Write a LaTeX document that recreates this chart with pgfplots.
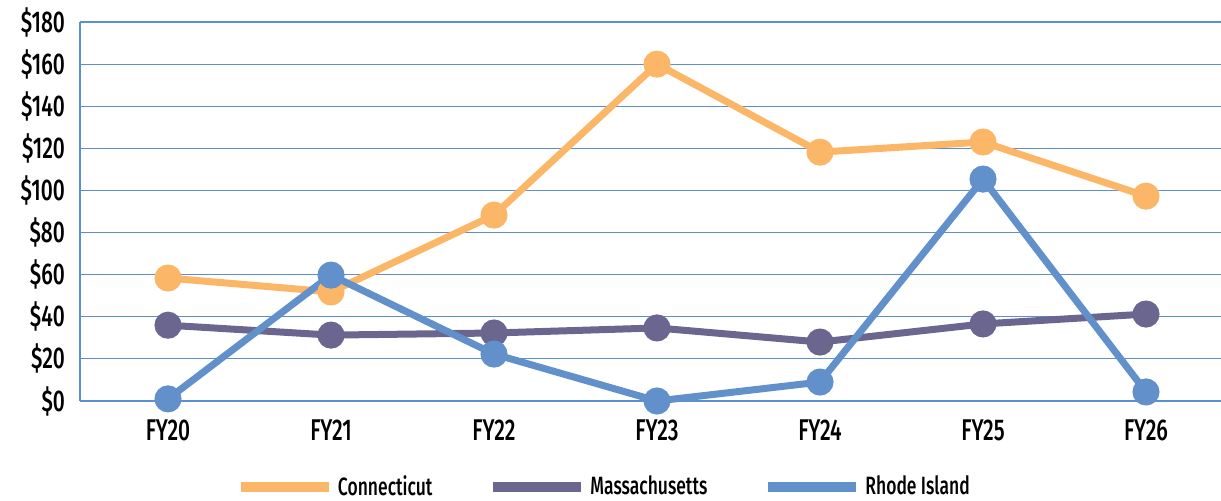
\documentclass[border=0pt]{standalone}
\usepackage{pgfplots}
\pgfplotsset{compat=1.18}
\usepackage{fontspec}
\setmainfont{Fira Sans Medium}[FakeStretch=0.7]
\definecolor{ctc}{HTML}{FBB767}
\definecolor{mac}{HTML}{6A668F}
\definecolor{ric}{HTML}{6190CB}
\definecolor{gridc}{HTML}{5B8FD0}
\begin{document}
\begin{tikzpicture}
\begin{axis}[
  at={(0,0)}, anchor=south west,
  scale only axis, width=570.5pt, height=189.5pt,
  xmin=-0.54, xmax=6.46, ymin=0, ymax=180,
  xtick={0,...,6},
  xticklabels={FY20,FY21,FY22,FY23,FY24,FY25,FY26},
  ytick={0,20,...,180},
  yticklabel={\$\pgfmathprintnumber{\tick}},
  /pgf/number format/assume math mode=true,
  tick style={draw=none},
  ymajorgrids, major grid style={gridc, line width=0.6pt},
  axis x line*=bottom, axis y line*=left,
  axis line style={-, gridc, line width=0.8pt},
  ticklabel style={font=\fontsize{15}{17}\selectfont, text=black},
  xticklabel style={yshift=-6pt},
  yticklabel style={xshift=-4pt},
  clip=false,
  legend columns=3,
  legend style={at={(0.46,0)}, anchor=center, yshift=-43pt, draw=none,
    font=\fontsize{12.5}{14}\selectfont,
    /tikz/every even column/.append style={column sep=26pt}},
  legend image code/.code={\draw[#1, line width=5pt, mark=none] (0pt,0pt) -- (44pt,0pt);},
  every axis plot/.append style={line width=3.5pt, mark=*, mark size=5pt},
]
\addplot[ctc, mark options={fill=ctc, draw=ctc}] coordinates {(0,58.4) (1,51.8) (2,88.3) (3,160) (4,118.2) (5,123) (6,97.3)};
\addlegendentry{Connecticut}
\addplot[mac, mark options={fill=mac, draw=mac}] coordinates {(0,36) (1,31.3) (2,32.3) (3,34.7) (4,28) (5,36.6) (6,41.3)};
\addlegendentry{Massachusetts}
\addplot[ric, mark options={fill=ric, draw=ric}] coordinates {(0,1) (1,59.8) (2,22.3) (3,0) (4,9) (5,105.4) (6,4.3)};
\addlegendentry{Rhode Island}
\end{axis}
\pgfresetboundingbox
\path[use as bounding box] (-40pt,-49.5pt) rectangle (570.5pt,200.5pt);
\end{tikzpicture}
\end{document}
